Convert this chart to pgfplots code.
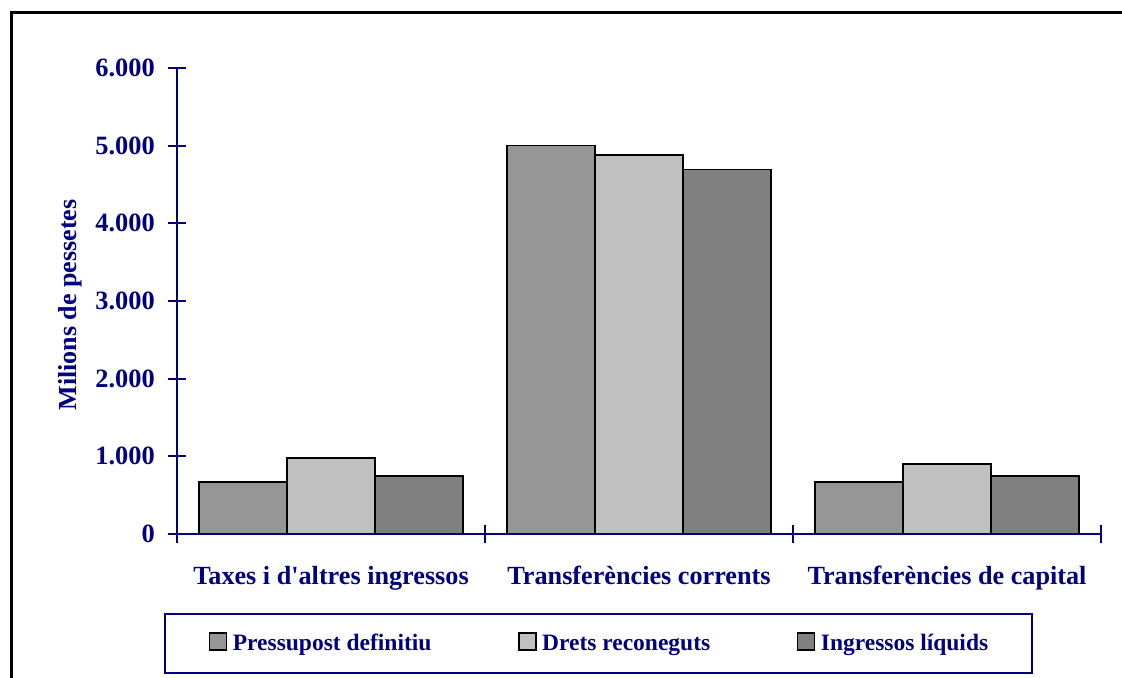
\documentclass[border=0pt]{standalone}
\usepackage{fontspec}
\setmainfont{Liberation Serif}
\usepackage{pgfplots}
\pgfplotsset{compat=1.18}
\definecolor{navyc}{RGB}{0,0,128}
\definecolor{barA}{RGB}{150,150,150}
\definecolor{barB}{RGB}{192,192,192}
\definecolor{barC}{RGB}{128,128,128}
\pgfplotsset{mylegend/.style={legend image code/.code={\draw[##1] (0pt,-2.7pt) rectangle (8.5pt,5.8pt); \path (11.3pt,0pt);}}}
\begin{document}
\begin{tikzpicture}
\useasboundingbox (0,0) rectangle (561pt,339pt);
\fill[white] (0,0) rectangle (561pt,339pt);
\draw[line width=1.5pt] (5.5pt,0) -- (5.5pt,332.75pt) -- (561pt,332.75pt);
\begin{axis}[
  at={(88.5pt,72pt)}, anchor=south west,
  scale only axis, width=462pt, height=233pt,
  xmin=-0.5, xmax=2.5, ymin=0, ymax=6000,
  axis lines=left, axis line style={-, navyc, line width=1pt},
  axis on top,
  ybar=0pt, bar width=44pt,
  xtick={-0.5,0.5,1.5,2.5},
  x tick label as interval,
  xticklabels={Taxes i d\textquotesingle altres ingressos, Transferències corrents, Transferències de capital},
  ytick={0,1000,2000,3000,4000,5000,6000},
  tick align=center, major tick length=8.75pt,
  tick style={navyc, line width=1pt},
  scaled y ticks=false,
  /pgf/number format/1000 sep={.},
  /pgf/number format/assume math mode=true,
  yticklabel style={anchor=east, inner sep=0pt, xshift=-6.5pt, text=navyc, font=\fontsize{13.2}{15}\selectfont\bfseries},
  xticklabel style={anchor=base, yshift=-20.9pt, text=navyc, font=\fontsize{13.1}{15}\selectfont\bfseries},
  ylabel={Milions de pessetes},
  ylabel style={at={(axis description cs:-0.1088,0.4914)}, anchor=base, text=navyc, font=\fontsize{13}{15}\selectfont\bfseries},
  legend columns=3,
  legend style={at={(-0.0145,-0.1702)}, anchor=north west, draw=navyc, line width=1pt,
    inner xsep=22pt, inner ysep=9pt, text=navyc, font=\fontsize{11.75}{14}\selectfont\bfseries,
    /tikz/every even column/.append style={column sep=43.2pt},
    nodes={inner sep=0pt, text height=8pt, text depth=2.6pt}},
]
\addplot[fill=barA, draw=black, line width=0.8pt, mylegend] coordinates {(0,673) (1,5003) (2,673)};
\addplot[fill=barB, draw=black, line width=0.8pt, mylegend] coordinates {(0,982) (1,4878) (2,905)};
\addplot[fill=barC, draw=black, line width=0.8pt, mylegend] coordinates {(0,746) (1,4694) (2,746)};
\legend{Pressupost definitiu, Drets reconeguts, Ingressos líquids}
\end{axis}
\end{tikzpicture}
\end{document}
